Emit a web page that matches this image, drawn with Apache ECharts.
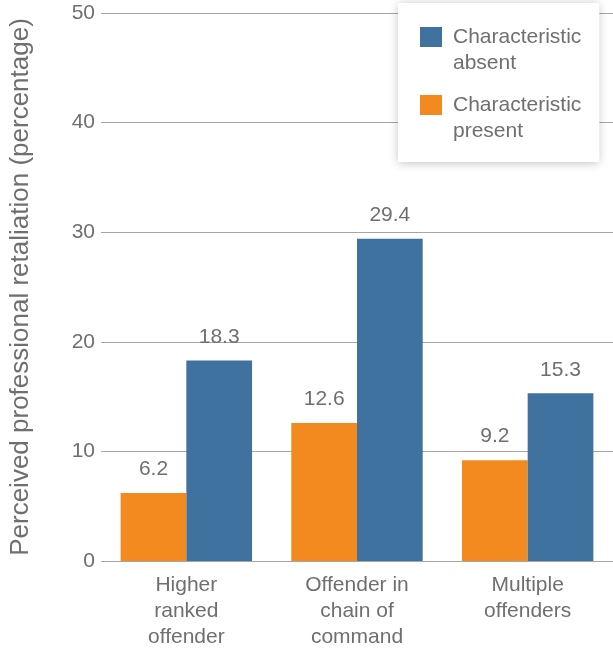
<!DOCTYPE html>
<html>
<head>
<meta charset="utf-8">
<script src="https://cdn.jsdelivr.net/npm/echarts@6/dist/echarts.min.js"></script>
<style>
  html, body { margin: 0; padding: 0; background: #fff; }
  #chart { width: 613px; height: 650px; }
</style>
</head>
<body>
<div id="chart"></div>
<script>
// Category labels along the x axis
const categories = ['Higher\nranked\noffender', 'Offender in\nchain of\ncommand', 'Multiple\noffenders'];
// Perceived professional retaliation (%) by offender characteristic
const presentValues = [6.2, 12.6, 9.2];
const absentValues = [18.3, 29.4, 15.3];
const seriesNames = ['Characteristic present', 'Characteristic absent'];
const legendLabels = {
  'Characteristic absent': 'Characteristic\nabsent',
  'Characteristic present': 'Characteristic\npresent'
};

const TEXT = '#6f6f6f';
const FONT = 'Liberation Sans, Arial, sans-serif';

const chart = echarts.init(document.getElementById('chart'), null, { renderer: 'canvas' });

const valueLabel = {
  show: true,
  position: 'top',
  distance: 13,
  fontFamily: FONT,
  fontSize: 21,
  color: TEXT,
  formatter: p => p.value.toFixed(1)
};

chart.setOption({
  backgroundColor: '#ffffff',
  animation: false,
  textStyle: { fontFamily: FONT, color: TEXT },
  grid: { left: 100, right: 0, top: 13, bottom: 89, containLabel: false },
  legend: {
    orient: 'vertical',
    left: 398,
    top: 3,
    data: ['Characteristic absent', 'Characteristic present'],
    // square swatch sitting at the top of a taller item slot, so it lines up with the first text line
    icon: 'path://M0,0L22,0L22,20L0,20Z M0,46L22,46',
    itemWidth: 22,
    itemHeight: 46,
    itemGap: 16,
    padding: [21, 18, 18, 22],
    backgroundColor: '#ffffff',
    shadowColor: 'rgba(0,0,0,0.25)',
    shadowBlur: 9,
    shadowOffsetX: 0,
    shadowOffsetY: 1,
    formatter: name => legendLabels[name],
    textStyle: {
      fontFamily: FONT,
      fontSize: 21,
      lineHeight: 26,
      color: TEXT,
      padding: [0, 0, 0, 6]
    },
    selectedMode: false
  },
  xAxis: {
    type: 'category',
    data: categories,
    axisLine: { show: false },
    axisTick: { show: false },
    axisLabel: {
      fontFamily: FONT,
      fontSize: 21,
      lineHeight: 26,
      color: TEXT,
      margin: 11,
      interval: 0
    }
  },
  yAxis: {
    type: 'value',
    min: 0,
    max: 50,
    interval: 10,
    name: 'Perceived professional retaliation (percentage)',
    nameLocation: 'middle',
    nameGap: 67,
    nameTextStyle: { fontFamily: FONT, fontSize: 26, color: TEXT },
    axisLine: { show: false },
    axisTick: { show: false },
    axisLabel: { fontFamily: FONT, fontSize: 21, color: TEXT, margin: 6 },
    splitLine: { show: true, lineStyle: { color: '#a6a6a6', width: 1 } }
  },
  series: [
    {
      name: seriesNames[0],
      type: 'bar',
      data: presentValues,
      barGap: '0%',
      barCategoryGap: '23%',
      itemStyle: { color: '#f28a20' },
      label: valueLabel
    },
    {
      name: seriesNames[1],
      type: 'bar',
      data: absentValues,
      barGap: '0%',
      barCategoryGap: '23%',
      itemStyle: { color: '#40729f' },
      label: valueLabel
    }
  ]
});
</script>
</body>
</html>
